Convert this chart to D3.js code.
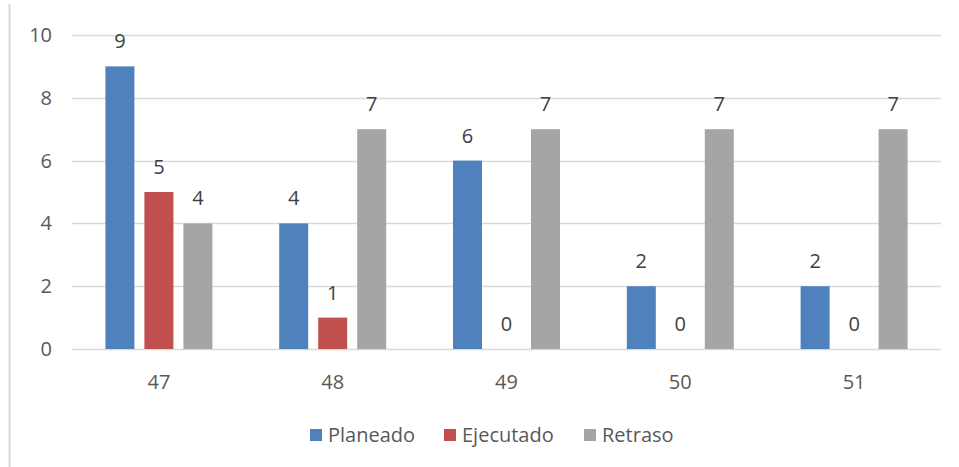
<!DOCTYPE html>
<html><head><meta charset="utf-8">
<script src="https://cdn.jsdelivr.net/npm/d3@7"></script>
<style>html,body{margin:0;padding:0;background:#fff;}svg{display:block;}</style>
</head><body>
<svg id="chart" width="959" height="467"></svg>
<script>
const categories = ["47","48","49","50","51"];
const seriesNames = ["Planeado","Ejecutado","Retraso"];
const planeado = [9,4,6,2,2];
const ejecutado = [5,1,0,0,0];
const retraso = [4,7,7,7,7];
const yTicks = [0,2,4,6,8,10];
const colors = ["#4F81BD","#C0504D","#A5A5A5"];

(function(){
const seriesValues = [planeado, ejecutado, retraso];
const svg = d3.select("#chart");
const font = "'Open Sans', sans-serif";
const fs = 20;

// left border line
svg.append("line").attr("x1",9.5).attr("x2",9.5).attr("y1",4).attr("y2",467)
  .attr("stroke","#d9d9d9").attr("stroke-width",2);

const pl = 72, pr = 941, pt = 35, pb = 349;
const x = d3.scaleBand().domain(categories).range([pl,pr]);
const y = d3.scaleLinear().domain([0,10]).range([pb,pt]);
const step = 39;
const xs = d3.scaleBand().domain(seriesNames).range([-step*1.5, step*1.5]).paddingInner(10/39).paddingOuter(5/39);

// gridlines
svg.append("g").selectAll("line").data(yTicks).join("line")
  .attr("x1",pl).attr("x2",pr)
  .attr("y1",d=>Math.round(y(d))+0.5).attr("y2",d=>Math.round(y(d))+0.5)
  .attr("stroke","#d9d9d9").attr("stroke-width",1.3);

// y labels
svg.append("g").selectAll("text").data(yTicks).join("text")
  .attr("x",52).attr("y",d=>y(d)).attr("dy","0.35em").attr("text-anchor","end")
  .attr("font-family",font).attr("font-size",fs).attr("fill","#595959").text(d=>d);

// x labels
svg.append("g").selectAll("text").data(categories).join("text")
  .attr("x",d=>x(d)+x.bandwidth()/2).attr("y",382).attr("dy","0.35em").attr("text-anchor","middle")
  .attr("font-family",font).attr("font-size",fs).attr("fill","#595959").text(d=>d);

// bars
const data = [];
categories.forEach((c,i)=>seriesNames.forEach((s,j)=>data.push({c,s,j,v:seriesValues[j][i]})));
const cx = d => x(d.c)+x.bandwidth()/2 + xs(d.s);
svg.append("g").selectAll("rect").data(data.filter(d=>d.v>0)).join("rect")
  .attr("x",cx).attr("width",xs.bandwidth())
  .attr("y",d=>y(d.v)).attr("height",d=>y(0)-y(d.v)).attr("fill",d=>colors[d.j]);

// value labels
svg.append("g").selectAll("text").data(data).join("text")
  .attr("x",d=>cx(d)+xs.bandwidth()/2).attr("y",d=>y(d.v)-25).attr("dy","0.35em").attr("text-anchor","middle")
  .attr("font-family",font).attr("font-size",fs).attr("fill","#404040").text(d=>d.v);

// legend
const legendX = [310,444,584];
const lg = svg.append("g").selectAll("g").data(seriesNames).join("g")
  .attr("transform",(d,i)=>`translate(${legendX[i]},435)`);
lg.append("rect").attr("x",0).attr("y",-6).attr("width",12).attr("height",12).attr("fill",(d,i)=>colors[i]);
lg.append("text").attr("x",18).attr("y",0).attr("dy","0.35em")
  .attr("font-family",font).attr("font-size",fs).attr("fill","#595959").text(d=>d);
})();
</script>
</body></html>
